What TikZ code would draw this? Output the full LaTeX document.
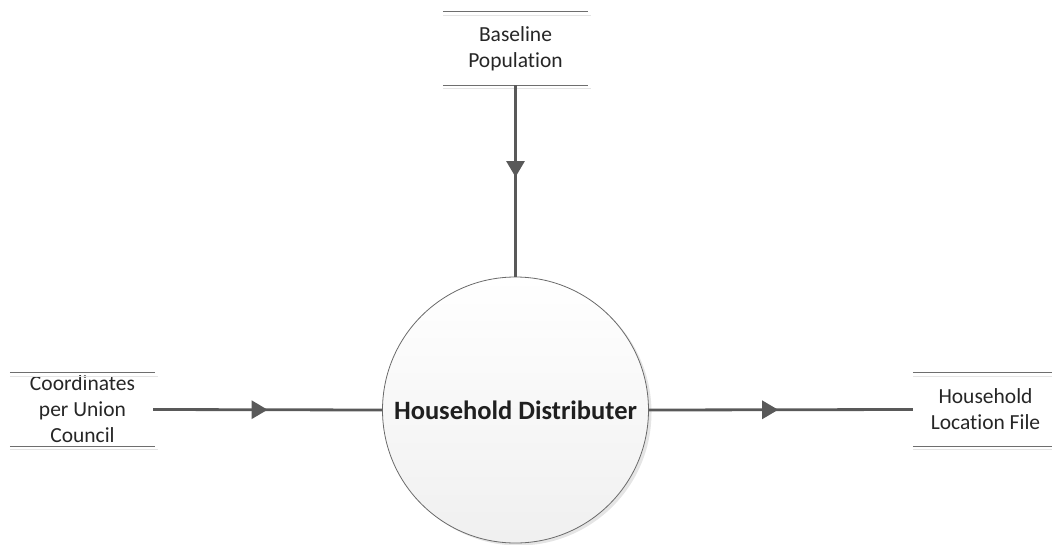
\documentclass[tikz,border=0pt]{standalone}
\usepackage{fontspec}
\setmainfont{Carlito}[Ligatures=NoCommon]
\usetikzlibrary{arrows.meta,decorations.markings}
\definecolor{flowgray}{HTML}{595959}
\definecolor{storeline}{HTML}{6E6E6E}
\definecolor{storeshade}{HTML}{E4E4E4}
\definecolor{procedge}{HTML}{6A6A6A}
\tikzset{
  store/.style={minimum width=145pt, minimum height=73pt, inner sep=0pt,
    align=center, font=\fontsize{21.5}{26}\selectfont, text=black!85},
  process/.style={circle, minimum size=266pt, inner sep=0pt, draw=procedge,
    line width=0.8pt, top color=white, bottom color=black!6,
    font=\bfseries\fontsize{26.5}{30}\selectfont, text=black!88},
  flow/.style={draw=flowgray, line width=2.8pt,
    postaction={decorate, decoration={markings,
      mark=at position #1 with {\arrow[flowgray]{Triangle[length=16pt,width=18pt]}}}}},
  flow/.default=0.5
}
\newcommand{\storelines}[1]{%
  \draw[storeshade, line width=1pt] ([yshift=-4pt]#1.north west) -- ([yshift=-4pt,xshift=3pt]#1.north east);
  \draw[storeshade, line width=1pt] ([yshift=-3pt]#1.south west) -- ([yshift=-3pt,xshift=3pt]#1.south east);
  \draw[storeline, line width=0.9pt] (#1.north west) -- (#1.north east);
  \draw[storeline, line width=0.9pt] (#1.south west) -- (#1.south east);
}
\begin{document}
\begin{tikzpicture}[x=1pt, y=-1pt]
  \useasboundingbox (0,0) rectangle (1052,544);
  % external data stores
  \node[store] (pop) at (515.5,48.5) {Baseline\\Population};
  \node[store] (coord) at (82.5,409.5) {Coordinates\\per Union\\Council};
  \node[store] (hh) at (985.5,409.5) {Household\\Location File};
  \storelines{pop}
  \storelines{coord}
  \storelines{hh}
  % process with soft shadow
  \fill[black!10] (518.5,412.5) circle (133pt);
  \node[process] (proc) at (515.5,410) {Household Distributer};
  % data flows
  \draw[flow=0.48] (pop.south) -- (proc.north);
  \draw[flow=0.5] ([xshift=-2pt]coord.east) -- (proc.west);
  \draw[flow=0.49] (proc.east) -- (hh.west);
\end{tikzpicture}
\end{document}
